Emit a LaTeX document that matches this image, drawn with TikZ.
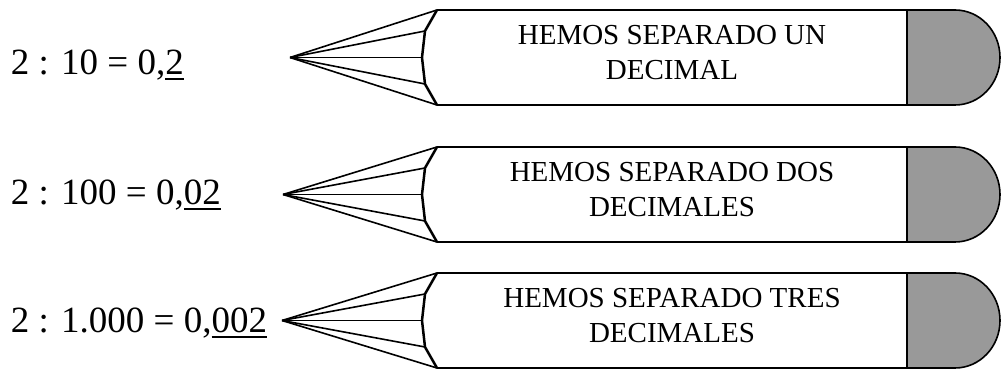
\documentclass[tikz,border=0pt]{standalone}
\usepackage{fontspec}
\setmainfont{Liberation Serif}
\newcommand\raya[1]{\vtop{\hbox{#1}\kern3pt\hrule height 2pt}}
\begin{document}
\begin{tikzpicture}[x=1pt, y=1pt, line width=1.6pt,
        cuenta/.style = {anchor=base west, inner sep=0pt, font=\fontsize{37}{44}\selectfont},
        rotulo/.style = {align=center, inner sep=0pt, font=\fontsize{29}{35}\selectfont},
        goma/.style = {fill=black!40},
        mina/.style = {line width=2.5pt}]
    \useasboundingbox (0,0) rectangle (1001,369);
    % lapices
    \foreach \n/\yt/\xp/\txt in {1/359/290/{HEMOS SEPARADO UN\\DECIMAL},
            2/222/283/{HEMOS SEPARADO DOS\\DECIMALES},
            3/96/282/{HEMOS SEPARADO TRES\\DECIMALES}} {
        \pgfmathsetmacro\yb{\yt-95}
        \pgfmathsetmacro\ym{\yt-47.5}
        \coordinate (punta\n) at (\xp,\ym);
        \coordinate (sup\n) at (437,\yt);
        \coordinate (supm\n) at (425,\yt-21);
        \coordinate (med\n) at (422,\ym);
        \coordinate (infm\n) at (425,\yb+21);
        \coordinate (inf\n) at (437,\yb);
        \draw (sup\n) -- (907,\yt) (inf\n) -- (907,\yb);
        \filldraw[goma] (907,\yt) -- (955,\yt)
            arc[start angle=90, end angle=-90, x radius=45, y radius=47.5]
            -- (907,\yb) -- cycle;
        \draw[mina] (sup\n) -- (supm\n) -- (med\n) -- (infm\n) -- (inf\n);
        \foreach \p in {sup,supm,med,infm,inf}
            \draw (punta\n) -- (\p\n);
        \node[rotulo] (rotulo\n) at (672,\ym+5) {\txt};
    }
    % cuentas
    \node[cuenta] (cuenta1) at (10,294) {2 : 10 = 0,\raya{2}};
    \node[cuenta] (cuenta2) at (10,164) {2 : 100 = 0,\raya{02}};
    \node[cuenta] (cuenta3) at (10,36) {2 : 1.000 = 0,\raya{002}};
\end{tikzpicture}
\end{document}
